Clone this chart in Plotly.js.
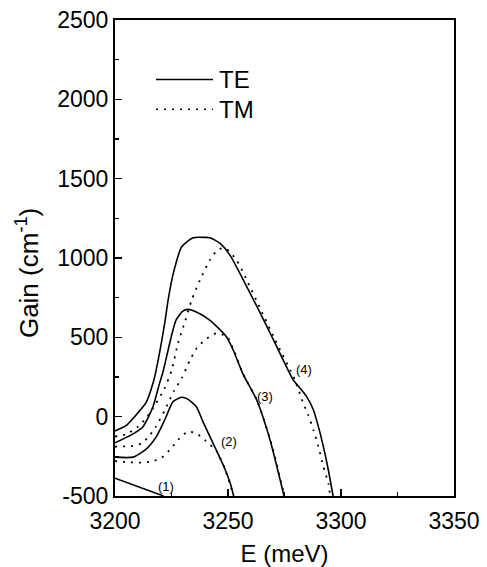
<!DOCTYPE html>
<html>
<head>
<meta charset="utf-8">
<script src="https://cdn.plot.ly/plotly-3.0.1.min.js"></script>
<style>
  html, body { margin: 0; padding: 0; background: #fff; }
  #chart { width: 487px; height: 567px; }
</style>
</head>
<body>
<div id="chart"></div>
<script>
// ---- Data (E in meV, Gain in cm^-1) ----
const te1E = [3200, 3221.5];
const te1G = [-388, -500];

const te2E = [3200, 3208, 3213.8, 3218.3, 3222, 3225.7, 3229.5, 3232, 3236, 3238.9, 3244.8, 3248.5, 3251, 3252.5];
const te2G = [-255, -255, -205, -126, -21, 95, 122, 112, 63, -31, -210, -325, -420, -500];

const tm2E = [3200, 3206, 3211.6, 3216, 3220.4, 3224.9, 3228.6, 3232.3, 3236, 3240, 3244.8, 3248.5, 3252.5];
const tm2G = [-280, -287, -290, -283, -262, -199, -136, -94, -105, -150, -215, -325, -500];

const te3E = [3200, 3207.2, 3212.4, 3216.8, 3219.7, 3221.2, 3224.9, 3227, 3230, 3232.3, 3236, 3241.9, 3249.3, 3252.3, 3256.6, 3262.7, 3268.6, 3274.8];
const te3G = [-165, -115, -63, 63, 210, 280, 504, 609, 665, 676, 660, 609, 504, 420, 270, 105, -147, -500];

const tm3E = [3200, 3207.2, 3211.6, 3215, 3218, 3222, 3226, 3229.5, 3233.2, 3236.1, 3239.8, 3244.8, 3249.5, 3252.5, 3256.8, 3262.9, 3268.8, 3275];
const tm3G = [-189, -185, -170, -125, -65, 40, 160, 242, 357, 431, 483, 525, 505, 420, 265, 100, -150, -500];

const te4E = [3200, 3205, 3209.6, 3213.8, 3216.8, 3218.3, 3222, 3223.5, 3225.8, 3229.5, 3234.6, 3240, 3242, 3246.5, 3251, 3256.8, 3264, 3270.5, 3278.9, 3281.9, 3284.8, 3287.8, 3290, 3292.2, 3294.4, 3296.5];
const te4G = [-90, -55, 15, 90, 210, 300, 590, 735, 903, 1071, 1128, 1130, 1128, 1092, 1015, 861, 660, 473, 231, 179, 126, 42, -63, -189, -336, -500];

const tm4E = [3200, 3205, 3210, 3214, 3218, 3222, 3225, 3228, 3231, 3233.9, 3237.6, 3242, 3245.7, 3249, 3253.8, 3258, 3264.5, 3271, 3279.5, 3283.3, 3285.5, 3287.8, 3290, 3292.2, 3294.4, 3295.2];
const tm4G = [-126, -110, -65, -5, 80, 180, 290, 470, 600, 735, 861, 987, 1055, 1060, 987, 870, 675, 480, 235, 84, 11, -84, -189, -315, -420, -500];

const curveLabels = ["(1)", "(2)", "(3)", "(4)"];
const labelE = [3222.5, 3250.6, 3266.4, 3283.6];
const labelG = [-437, -157, 126, 299];

const xTicks = [3200, 3250, 3300, 3350];
const yTicks = [-500, 0, 500, 1000, 1500, 2000, 2500];
const legendNames = ["TE", "TM"];

// ---- Styles ----
const solid = {color: "#000", width: 1.6, shape: "spline", smoothing: 0.6};
const dotted = {color: "#000", width: 1.8, dash: "2px,6px", shape: "spline", smoothing: 0.6};

function tr(x, y, line, name) {
  return {x: x, y: y, mode: "lines", line: line, name: name, showlegend: false, hoverinfo: "skip"};
}

const traces = [
  tr(te1E, te1G, Object.assign({}, solid, {shape: "linear"}), "TE"),
  tr(te2E, te2G, solid, "TE"),
  tr(tm2E, tm2G, dotted, "TM"),
  tr(te3E, te3G, solid, "TE"),
  tr(tm3E, tm3G, dotted, "TM"),
  tr(te4E, te4G, solid, "TE"),
  tr(tm4E, tm4G, dotted, "TM")
];

const font = "Liberation Sans, Arial, Helvetica, sans-serif";

const annotations = curveLabels.map((t, i) => ({
  x: labelE[i], y: labelG[i], xref: "x", yref: "y", text: t, showarrow: false,
  font: {family: font, size: 13, color: "#000"}, xanchor: "center", yanchor: "middle"
}));

// Legend drawn as sample lines + texts in paper coordinates
const legY = [0.875, 0.8124];
const legDash = ["solid", "2px,6px"];
const shapes = legY.map((y, i) => ({
  type: "line", xref: "paper", yref: "paper", x0: 0.121, x1: 0.289, y0: y, y1: y,
  line: {color: "#000", width: 1.6, dash: legDash[i]}
}));
legendNames.forEach((n, i) => annotations.push({
  x: 0.302, y: legY[i], xref: "paper", yref: "paper", text: n, showarrow: false,
  xanchor: "left", yanchor: "middle", font: {family: font, size: 24, color: "#000"}
}));

// Y axis title (placed as rotated annotation to match the reference position)
annotations.push({
  x: -0.26, y: 0.468, xref: "paper", yref: "paper", text: "Gain (cm<sup>-1</sup>)",
  textangle: -90, showarrow: false, xanchor: "center", yanchor: "middle",
  font: {family: font, size: 26, color: "#000"}
});

const layout = {
  width: 487, height: 567,
  margin: {l: 115, r: 33, t: 20, b: 71},
  paper_bgcolor: "#fff", plot_bgcolor: "#fff",
  showlegend: false,
  font: {family: font, color: "#000", size: 23},
  xaxis: {
    range: [3200, 3350], tickvals: xTicks, ticktext: xTicks.map(String),
    ticks: "inside", ticklen: 7, tickwidth: 1.5, tickcolor: "#000",
    minor: {dtick: 25, tick0: 3200, ticks: "inside", ticklen: 4, tickwidth: 1.5, tickcolor: "#000"},
    showline: true, mirror: true, linewidth: 2, linecolor: "#000",
    showgrid: false, zeroline: false, ticklabelstandoff: 3,
    tickfont: {family: font, size: 23, color: "#000"},
    title: {text: "E (meV)", font: {family: font, size: 24, color: "#000"}, standoff: 13}
  },
  yaxis: {
    range: [-500, 2500], tickvals: yTicks, ticktext: yTicks.map(String),
    ticks: "inside", ticklen: 7, tickwidth: 1.5, tickcolor: "#000",
    minor: {dtick: 250, tick0: -500, ticks: "inside", ticklen: 4, tickwidth: 1.5, tickcolor: "#000"},
    showline: true, mirror: true, linewidth: 2, linecolor: "#000",
    showgrid: false, zeroline: false,
    tickfont: {family: font, size: 23, color: "#000"}
  },
  annotations: annotations,
  shapes: shapes
};

Plotly.newPlot("chart", traces, layout, {staticPlot: true, displayModeBar: false});
</script>
</body>
</html>
